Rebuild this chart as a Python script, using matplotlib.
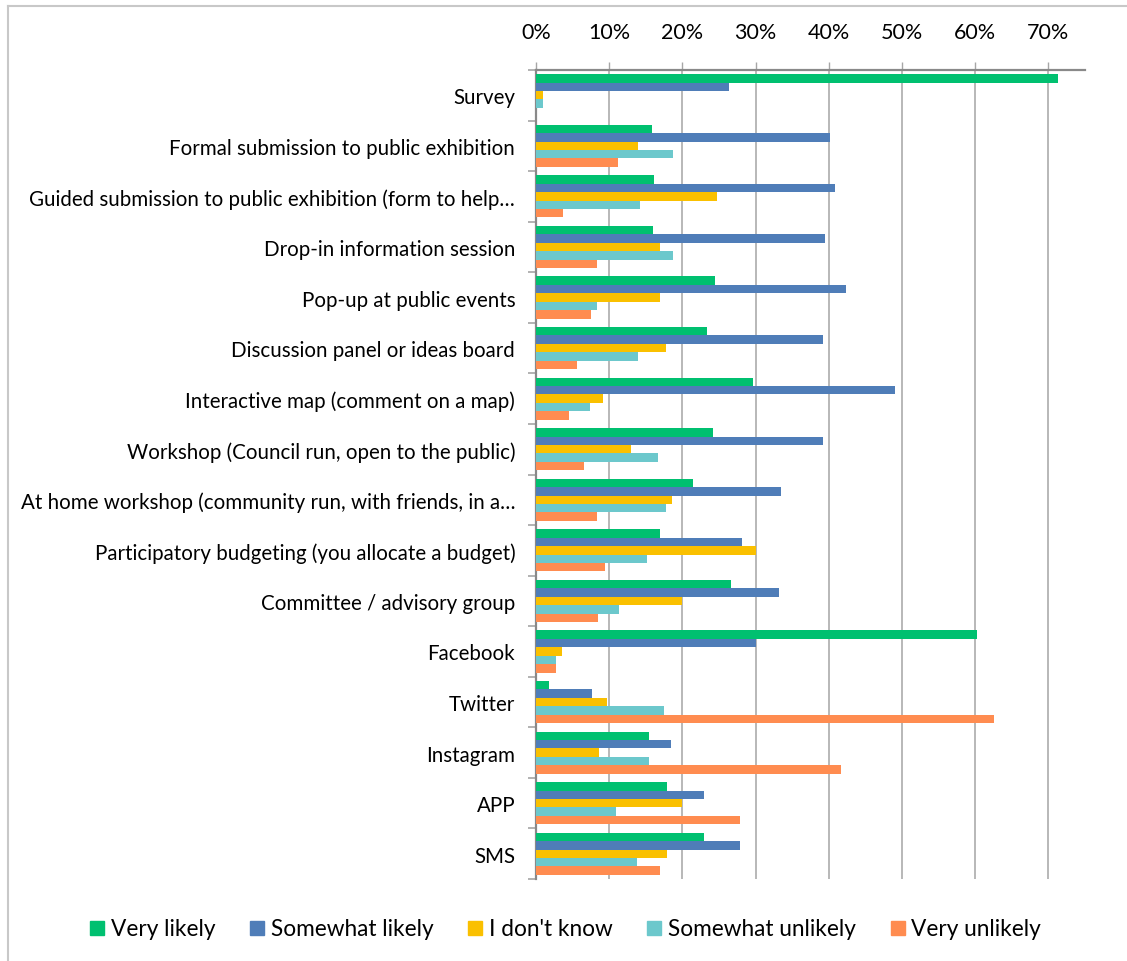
import matplotlib
matplotlib.use("Agg")
import matplotlib.pyplot as plt
from matplotlib.lines import Line2D
from matplotlib.ticker import PercentFormatter, FixedLocator
import numpy as np

plt.rcParams["font.family"] = ["Lato", "DejaVu Sans"]

# ---------- data ----------
categories = [
    "Survey",
    "Formal submission to public exhibition",
    "Guided submission to public exhibition (form to help\u2026",
    "Drop-in information session",
    "Pop-up at public events",
    "Discussion panel or ideas board",
    "Interactive map (comment on a map)",
    "Workshop (Council run, open to the public)",
    "At home workshop (community run, with friends, in a\u2026",
    "Participatory budgeting (you allocate a budget)",
    "Committee / advisory group",
    "Facebook",
    "Twitter",
    "Instagram",
    "APP",
    "SMS",
]

very_likely       = [71.3, 15.9, 16.1, 16.0, 24.4, 23.3, 29.6, 24.2, 21.4, 16.9, 26.6, 60.3,  1.8, 15.5, 17.9, 22.9]
somewhat_likely   = [26.4, 40.1, 40.8, 39.5, 42.4, 39.2, 49.0, 39.2, 33.5, 28.2, 33.2, 30.1,  7.7, 18.4, 22.9, 27.9]
dont_know         = [ 1.0, 13.9, 24.7, 16.9, 16.9, 17.7,  9.2, 13.0, 18.6, 30.1, 19.9,  3.6,  9.7,  8.6, 19.9, 17.9]
somewhat_unlikely = [ 1.0, 18.7, 14.2, 18.7,  8.4, 13.9,  7.4, 16.7, 17.7, 15.1, 11.3,  2.8, 17.5, 15.5, 10.9, 13.8]
very_unlikely     = [ 0.0, 11.2,  3.7,  8.4,  7.5,  5.6,  4.5,  6.5,  8.3,  9.4,  8.5,  2.8, 62.6, 41.7, 27.9, 16.9]

series_names = ["Very likely", "Somewhat likely", "I don't know", "Somewhat unlikely", "Very unlikely"]
series = [very_likely, somewhat_likely, dont_know, somewhat_unlikely, very_unlikely]
colors = ["#00C070", "#4F7DB8", "#FAC000", "#6CC8CC", "#FF8C50"]

# ---------- figure ----------
W, H = 1127, 962
fig = plt.figure(figsize=(W / 100, H / 100), dpi=100)
ax = fig.add_axes([536 / W, 1 - 880 / H, (1085 - 536) / W, (880 - 71) / H])

n = len(categories)
y = np.arange(n)
h = 1 / 6
for k, (vals, col) in enumerate(zip(series, colors)):
    ax.barh(y + (k - 2) * h, np.array(vals) / 100, height=h, color=col,
            edgecolor="none", zorder=3)

ax.set_xlim(0, 0.75)
ax.set_ylim(n - 0.5, -0.5)

# x axis along the top
ax.xaxis.tick_top()
ax.set_xticks(np.arange(0, 0.71, 0.1))
ax.xaxis.set_major_formatter(PercentFormatter(1.0, decimals=0))
ax.tick_params(axis="x", length=6, width=1, color="#A6A6A6", pad=14,
               labelsize=15.5, labelcolor="#000000")
ax.grid(axis="x", color="#ABABAB", lw=1.2, zorder=0)

# category labels, tick marks between groups
ax.set_yticks(y)
ax.set_yticklabels(categories)
ax.yaxis.set_minor_locator(FixedLocator(np.arange(-0.5, n, 1.0)))
ax.tick_params(axis="y", which="major", length=0, pad=15, labelsize=14.8,
               labelcolor="#000000")
ax.tick_params(axis="y", which="minor", length=6, width=1.2, color="#A6A6A6")

for s in ("right", "bottom"):
    ax.spines[s].set_visible(False)
for s in ("top", "left"):
    ax.spines[s].set_color("#898989")
    ax.spines[s].set_linewidth(1.6)

# legend at the bottom
handles = [Line2D([], [], marker="s", ls="none", markersize=10.5, color=c) for c in colors]
fig.legend(handles, series_names, loc="center", bbox_to_anchor=(0.5, 1 - 930 / H),
           ncol=5, frameon=False, fontsize=16.3, handletextpad=0.1,
           columnspacing=1.35, handlelength=1.0)

# chart area border (top and left edges)
fig.add_artist(Line2D([8 / W, 1], [1 - 7 / H, 1 - 7 / H], color="#C8C8C8", lw=1.5))
fig.add_artist(Line2D([8 / W, 8 / W], [0, 1 - 7 / H], color="#C8C8C8", lw=1.5))

fig.savefig("out.png", dpi=100, facecolor="white")
